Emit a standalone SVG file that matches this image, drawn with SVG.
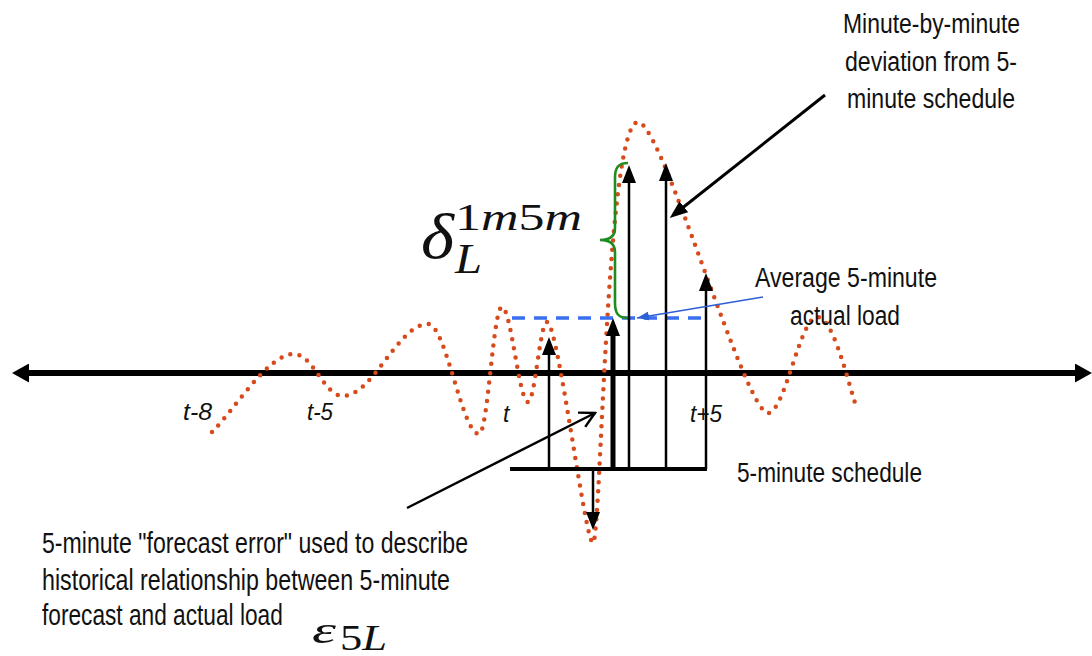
<svg xmlns="http://www.w3.org/2000/svg" width="1092" height="656" viewBox="0 0 1092 656">
<defs>
<marker id="head" markerUnits="userSpaceOnUse" viewBox="0 0 18 14" refX="10" refY="7" markerWidth="18" markerHeight="14" orient="auto"><path d="M0,0 L18,7 L0,14 z" fill="#000"/></marker>
<marker id="axisHead" markerUnits="userSpaceOnUse" viewBox="0 0 17 19" refX="8" refY="9.5" markerWidth="17" markerHeight="19" orient="auto-start-reverse"><path d="M0,0 L17,9.5 L0,19 z" fill="#000"/></marker>
<marker id="open" markerUnits="userSpaceOnUse" viewBox="0 0 20 20" refX="18" refY="10" markerWidth="20" markerHeight="20" orient="auto"><path d="M3,2 L18,10 L3,18" fill="none" stroke="#000" stroke-width="2.5"/></marker>
<marker id="blueHead" markerUnits="userSpaceOnUse" viewBox="0 0 12 9" refX="12" refY="4.5" markerWidth="12" markerHeight="9" orient="auto"><path d="M0,0 L12,4.5 L0,9 z" fill="#2d5fd6"/></marker>
</defs>
<style>
.lbl{font-family:"Liberation Sans",Arial,sans-serif;fill:#111;}
.ax{font-family:"Liberation Sans",Arial,sans-serif;font-style:italic;font-size:23px;fill:#111;}
.math{font-family:"Liberation Serif","Times New Roman",serif;font-style:italic;fill:#111;}
.arr{stroke:#000;fill:none;}
</style>

<g id="axis">
<line x1="21" y1="373" x2="1083" y2="373" stroke="#000" stroke-width="6" marker-start="url(#axisHead)" marker-end="url(#axisHead)"/>
</g>

<g id="load-curve">
<path d="M212,432 C235,409 268,354 294,354 C313,354 324,396 343,396 C373,396 398,324 428,324 C446,324 462,434 479,434 C488,434 493,307 502,307 C511,307 519,402 528,402 C535,402 540,322 547,322 C558,322 585,543 593,543 C601,543 606,122 638,122 C662,122 745,413 768,413 C785,413 800,317 817,317 C832,317 845,370 855,403" fill="none" stroke="#d64a1c" stroke-width="4.5" stroke-linecap="round" stroke-dasharray="0 9.3"/>
</g>

<g id="schedule">
<line x1="510" y1="469" x2="707" y2="469" stroke="#000" stroke-width="4"/>
</g>

<g id="average-line">
<line x1="512" y1="318" x2="708" y2="318" stroke="#3a6ff0" stroke-width="3.5" stroke-dasharray="13 9"/>
</g>

<g id="brace">
<path d="M628,163 C618,163 615,168 615,178 L615,228 C615,236 610,240 600,240 C610,240 615,244 615,252 L615,303 C615,313 618,318 628,318" fill="none" stroke="#1e8c1e" stroke-width="2.6"/>
</g>

<g id="connectors">
<line class="arr" x1="549" y1="469" x2="549" y2="345" stroke-width="2.5" marker-end="url(#head)"/>
<line class="arr" x1="613" y1="471" x2="613" y2="326" stroke-width="5" marker-end="url(#head)"/>
<line class="arr" x1="629" y1="469" x2="629" y2="173" stroke-width="2.5" marker-end="url(#head)"/>
<line class="arr" x1="666" y1="469" x2="666" y2="171" stroke-width="2.5" marker-end="url(#head)"/>
<line class="arr" x1="706" y1="469" x2="706" y2="281" stroke-width="2.5" marker-end="url(#head)"/>
<line class="arr" x1="593" y1="469" x2="593" y2="522" stroke-width="2.5" marker-end="url(#head)"/>
<line class="arr" x1="825" y1="95" x2="676" y2="213" stroke-width="3" marker-end="url(#head)"/>
<line class="arr" x1="407" y1="508" x2="595" y2="413" stroke-width="2.5" marker-end="url(#open)"/>
<line x1="763" y1="297" x2="637" y2="318" stroke="#2d5fd6" stroke-width="1.5" marker-end="url(#blueHead)"/>
</g>

<g id="label-minute">
<text class="lbl" font-size="27" x="843" y="33" textLength="177" lengthAdjust="spacingAndGlyphs">Minute-by-minute</text>
<text class="lbl" font-size="27" x="845" y="71" textLength="172" lengthAdjust="spacingAndGlyphs">deviation from 5-</text>
<text class="lbl" font-size="27" x="847" y="108" textLength="168" lengthAdjust="spacingAndGlyphs">minute schedule</text>
</g>

<g id="label-average">
<text class="lbl" font-size="27" x="755" y="287" textLength="182" lengthAdjust="spacingAndGlyphs">Average 5-minute</text>
<text class="lbl" font-size="27" x="790" y="325" textLength="110" lengthAdjust="spacingAndGlyphs">actual load</text>
</g>

<g id="label-schedule">
<text class="lbl" font-size="27" x="737" y="482" textLength="185" lengthAdjust="spacingAndGlyphs">5-minute schedule</text>
</g>

<g id="label-error">
<text class="lbl" font-size="29" transform="translate(42,553) scale(0.8,1)" textLength="532.5" lengthAdjust="spacingAndGlyphs">5-minute "forecast error" used to describe</text>
<text class="lbl" font-size="29" transform="translate(42,590) scale(0.8,1)" textLength="510" lengthAdjust="spacingAndGlyphs">historical relationship between 5-minute</text>
<text class="lbl" font-size="29" transform="translate(42,625) scale(0.8,1)" textLength="301" lengthAdjust="spacingAndGlyphs">forecast and actual load</text>
</g>

<g id="axis-labels">
<text class="ax" x="183" y="420" textLength="29" lengthAdjust="spacingAndGlyphs">t-8</text>
<text class="ax" x="307" y="420" textLength="26" lengthAdjust="spacingAndGlyphs">t-5</text>
<text class="ax" x="503" y="422">t</text>
<text class="ax" x="690" y="422" textLength="32" lengthAdjust="spacingAndGlyphs">t+5</text>
</g>

<g id="math-delta">
<text class="math" font-size="64" x="421" y="258" textLength="33" lengthAdjust="spacingAndGlyphs">δ</text>
<text class="math" font-size="38" x="455" y="230" textLength="127" lengthAdjust="spacingAndGlyphs"><tspan font-style="normal">1</tspan>m<tspan font-style="normal">5</tspan>m</text>
<text class="math" font-size="42" x="455" y="273" textLength="27" lengthAdjust="spacingAndGlyphs">L</text>
</g>

<g id="math-epsilon">
<text class="math" font-size="38" x="312" y="643" textLength="24" lengthAdjust="spacingAndGlyphs">ε</text>
<text class="math" font-size="36" x="340" y="650" textLength="47" lengthAdjust="spacingAndGlyphs"><tspan font-style="normal">5</tspan>L</text>
</g>
</svg>
